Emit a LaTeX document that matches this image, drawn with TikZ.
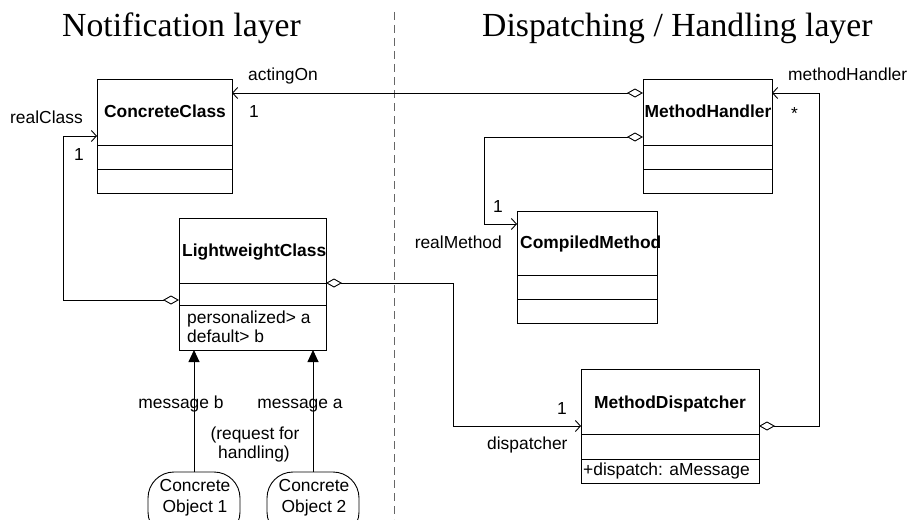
\documentclass[tikz,border=0pt]{standalone}
\usepackage{fontspec}
\setmainfont{Liberation Sans}
\newfontfamily\titlefont{Liberation Serif}
\usetikzlibrary{arrows.meta,calc}
\begin{document}
\begin{tikzpicture}[x=1pt,y=-1pt,
  box/.style={draw,line width=0.9pt,anchor=north west,inner sep=0pt,outer sep=0pt},
  divider/.style={line width=0.9pt},
  lbl/.style={font=\fontsize{17.4pt}{20pt}\selectfont,inner sep=0pt},
  cname/.style={font=\fontsize{17.4pt}{20pt}\selectfont\bfseries,inner sep=0pt},
  ttl/.style={font=\titlefont\fontsize{33.7pt}{37pt}\selectfont,inner sep=0pt,anchor=base west},
  conn/.style={line width=0.9pt},
  agg/.style={conn,{Diamond[open,length=16pt,width=9pt]}-{Straight Barb[length=5pt,width=11pt]}},
  msg/.style={conn,-{Triangle[length=12pt,width=11pt]}},
  obj/.style={draw,rectangle,rounded corners=26pt,line width=0.9pt,minimum width=92pt,minimum height=66pt,inner sep=0pt,outer sep=0pt}]
\useasboundingbox (0,0) rectangle (920,519);
\clip (0,0) rectangle (920,519);
\fill[white] (0,0) rectangle (920,519);

% titles
\node[ttl] (t1) at (62,37) {Notification layer};
\node[ttl] (t2) at (482,37) {Dispatching / Handling layer};

% separator
\draw[black!60, line width=0.9pt, dash pattern=on 8pt off 5pt] (394,12) -- (394,519);

% ConcreteClass
\node[box,minimum width=135pt,minimum height=114pt] (cc) at (97,79) {};
\draw[divider] (97,145) -- (232,145);
\draw[divider] (97,169) -- (232,169);
\node[cname,anchor=base] (ccn) at (165,117) {ConcreteClass};

% LightweightClass
\node[box,minimum width=147pt,minimum height=132pt] (lw) at (179,218) {};
\draw[divider] (179,283) -- (326,283);
\draw[divider] (179,305) -- (326,305);
\node[cname,anchor=base west] (lwn) at (182,256) {LightweightClass};
\node[lbl,anchor=base west] (lwa1) at (187,323) {personalized> a};
\node[lbl,anchor=base west] (lwa2) at (187,342) {default> b};

% MethodHandler
\node[box,minimum width=129pt,minimum height=114pt] (mh) at (643,79) {};
\draw[divider] (643,145) -- (772,145);
\draw[divider] (643,169) -- (772,169);
\node[cname,anchor=base] (mhn) at (708,117) {MethodHandler};

% CompiledMethod
\node[box,minimum width=140pt,minimum height=112pt] (cm) at (517,211) {};
\draw[divider] (517,275) -- (657,275);
\draw[divider] (517,299) -- (657,299);
\node[cname,anchor=base west] (cmn) at (520,248) {CompiledMethod};

% MethodDispatcher
\node[box,minimum width=178pt,minimum height=114pt] (md) at (581,369) {};
\draw[divider] (581,434) -- (759,434);
\draw[divider] (581,459) -- (759,459);
\node[cname,anchor=base] (mdn) at (670,408) {MethodDispatcher};
\node[lbl,anchor=base west] (mda) at (583,475) {+dispatch: aMessage};

% concrete objects
\node[obj] (co1) at (194,505) {};
\node[obj] (co2) at (313,505) {};
\node[lbl,anchor=base] (co1a) at (195,491) {Concrete};
\node[lbl,anchor=base] (co1b) at (195,512) {Object 1};
\node[lbl,anchor=base] (co2a) at (314,491) {Concrete};
\node[lbl,anchor=base] (co2b) at (314,512) {Object 2};

% associations
\draw[agg] ([yshift=-14pt]mh.north west) -- ([yshift=-14pt]cc.north east);
\draw[agg] ([yshift=-58pt]mh.north west) -| ([xshift=-33pt,yshift=-13pt]cm.north west) -- ([yshift=-13pt]cm.north west);
\draw[agg] ([yshift=-82pt]lw.north west) -| ([xshift=-34pt,yshift=-57pt]cc.north west) -- ([yshift=-57pt]cc.north west);
\draw[agg] ([yshift=-65pt]lw.north east) -| ([xshift=-128pt,yshift=-57pt]md.north west) -- ([yshift=-57pt]md.north west);
\draw[agg] ([yshift=-57pt]md.north east) -| ([xshift=47pt,yshift=-14pt]mh.north east) -- ([yshift=-14pt]mh.north east);

% messages
\draw[msg] (co1.north) -- (co1.north |- lw.south);
\draw[msg] (co2.north) -- (co2.north |- lw.south);

% labels
\node[lbl,anchor=base west] (l1) at (248,81) {actingOn};
\node[lbl,anchor=base west] (l2) at (249,117) {1};
\node[lbl,anchor=base west] (l3) at (10,123) {realClass};
\node[lbl,anchor=base west] (l4) at (74,160) {1};
\node[lbl,anchor=base west] (l5) at (788,80) {methodHandler};
\node[lbl,anchor=base west] (l6) at (791,119) {*};
\node[lbl,anchor=base west] (l7) at (493,212) {1};
\node[lbl,anchor=base east] (l8) at (502,248) {realMethod};
\node[lbl,anchor=base west] (l9) at (557,414) {1};
\node[lbl,anchor=base west] (l10) at (487,449) {dispatcher};
\node[lbl,anchor=base] (l11) at (181,408) {message b};
\node[lbl,anchor=base] (l12) at (300,408) {message a};
\node[lbl,anchor=base] (l13) at (255,439) {(request for};
\node[lbl,anchor=base] (l14) at (254,458) {handling)};
\end{tikzpicture}
\end{document}
